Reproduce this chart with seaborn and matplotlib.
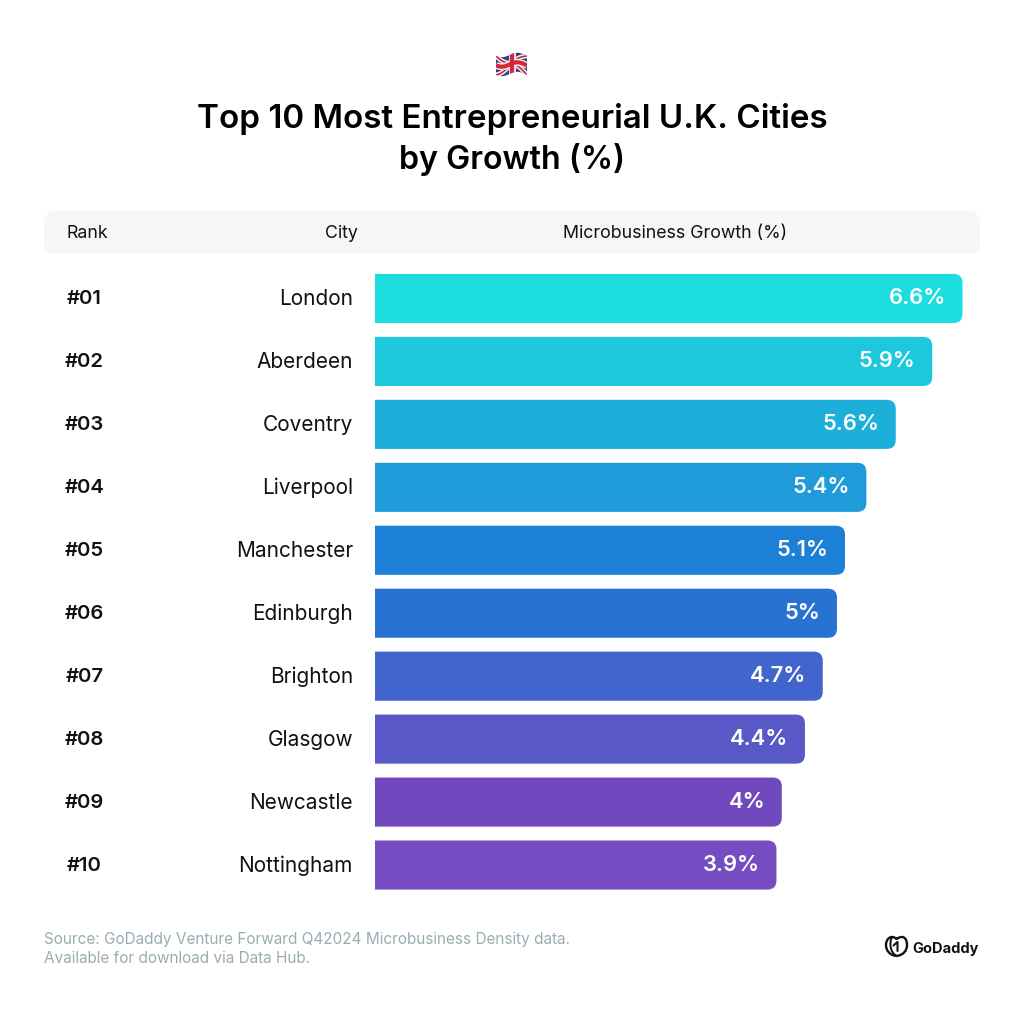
import numpy as np
import pandas as pd
import seaborn as sns
import matplotlib.pyplot as plt
from matplotlib.path import Path
from matplotlib.patches import PathPatch, FancyBboxPatch
from matplotlib.transforms import ScaledTranslation

ranks = ['#01', '#02', '#03', '#04', '#05', '#06', '#07', '#08', '#09', '#10']
cities = ['London', 'Aberdeen', 'Coventry', 'Liverpool', 'Manchester',
          'Edinburgh', 'Brighton', 'Glasgow', 'Newcastle', 'Nottingham']
# printed labels
growth_labels = ['6.6%', '5.9%', '5.6%', '5.4%', '5.1%', '5%', '4.7%', '4.4%', '4%', '3.9%']
# the bars are not drawn to the printed numbers, these are the lengths as read off the picture
bar_lengths = [6.60, 6.26, 5.85, 5.52, 5.28, 5.19, 5.03, 4.83, 4.57, 4.51]
bar_colors = ['#1CDEDE', '#1EC8DC', '#1CAFDA', '#1E9BD8', '#1B80D6',
              '#2872D2', '#4164CD', '#5858C7', '#7149BE', '#754CC1']

W, H = 1024, 1010
TEXT = '#111111'

sns.set_theme(style='white')
plt.rcParams['font.family'] = ['Inter', 'DejaVu Sans']

df = pd.DataFrame({'city': cities, 'length': bar_lengths})

fig = plt.figure(figsize=(W / 100, H / 100), dpi=100, facecolor='white')

# overlay in pixel coordinates for header, title, footer
bg = fig.add_axes([0, 0, 1, 1])
bg.set_xlim(0, W)
bg.set_ylim(H, 0)
bg.axis('off')

# bars, axes placed so row centres and bar ends fall where they do in the picture
x0, x1 = 375, 962.5
y0, y1 = 267, 896.5
ax = fig.add_axes([x0 / W, 1 - y1 / H, (x1 - x0) / W, (y1 - y0) / H])
ax.patch.set_alpha(0)
sns.barplot(data=df, y='city', x='length', hue='city', palette=bar_colors,
            order=cities, hue_order=cities, legend=False, width=0.78, saturation=1, ax=ax)
ax.set_xlim(0, 6.6)
ax.set_ylim(9.5, -0.5)
ax.set_xlabel('')
ax.set_ylabel('')
ax.xaxis.set_visible(False)
sns.despine(ax=ax, left=True, bottom=True, top=True, right=True)
ax.tick_params(axis='y', length=0, pad=22 * 0.72)
up = ScaledTranslation(0, 1.5 / 100, fig.dpi_scale_trans)
for t in ax.get_yticklabels():
    t.set_fontsize(15)
    t.set_color(TEXT)
    t.set_transform(t.get_transform() + up)

# swap square bars for ones with rounded right corners
rx = 9 / ((x1 - x0) / 6.6)
ry = 9 / ((y1 - y0) / 10)
for bar, lab, rank in zip(list(ax.patches), growth_labels, ranks):
    xa, xb = bar.get_x(), bar.get_x() + bar.get_width()
    ya, yb = bar.get_y(), bar.get_y() + bar.get_height()
    verts = [(xa, ya), (xb - rx, ya), (xb, ya), (xb, ya + ry), (xb, yb - ry), (xb, yb), (xb - rx, yb), (xa, yb), (xa, ya)]
    codes = [Path.MOVETO, Path.LINETO, Path.CURVE3, Path.CURVE3, Path.LINETO,
             Path.CURVE3, Path.CURVE3, Path.LINETO, Path.CLOSEPOLY]
    ax.add_patch(PathPatch(Path(verts, codes), fc=bar.get_facecolor(), ec='none'))
    bar.remove()
    ymid = (ya + yb) / 2
    ax.annotate(lab, (xb, ymid), xytext=(-16.5 * 0.72, 2 * 0.72), textcoords='offset points',
                ha='right', va='center_baseline', color='white', fontsize=15.8, fontweight='semibold')
    ax.annotate(rank, (0, ymid), xycoords=('axes fraction', 'data'), xytext=(-290.5 * 0.72, 1.5 * 0.72),
                textcoords='offset points', ha='center', va='center_baseline',
                color=TEXT, fontsize=14.6, fontweight='semibold')

# header strip
bg.add_patch(FancyBboxPatch((44, 211), 936, 43, boxstyle='round,pad=0,rounding_size=12',
                            fc='#F5F6F8', ec='none'))
bg.text(87.5, 232, 'Rank', ha='center', va='center_baseline', fontsize=12.8, color=TEXT)
bg.text(341, 232, 'City', ha='center', va='center_baseline', fontsize=12.8, color=TEXT)
bg.text(675, 232, 'Microbusiness Growth (%)', ha='center', va='center_baseline', fontsize=12.8, color=TEXT)

# title
bg.text(512, 115.5, 'Top 10 Most Entrepreneurial U.K. Cities', ha='center', va='center_baseline',
        fontsize=23.9, fontweight='semibold', color='black')
bg.text(512, 156.5, 'by Growth (%)', ha='center', va='center_baseline',
        fontsize=23.2, fontweight='semibold', color='black')

# footer
bg.text(44, 938, 'Source: GoDaddy Venture Forward Q42024 Microbusiness Density data.',
        ha='left', va='center_baseline', fontsize=11.05, color='#9AACB2')
bg.text(44, 957, 'Available for download via Data Hub.',
        ha='left', va='center_baseline', fontsize=11.05, color='#9AACB2')

# GoDaddy logo
C3 = Path.CURVE4
heart = Path([(896.5, 956), (889, 955), (886, 950), (886, 945), (886, 940), (889, 937), (892, 937),
              (894, 937), (896, 938), (896.5, 939.5), (897, 938), (900, 937), (902, 937),
              (905, 937), (907, 940), (907, 945), (907, 950), (904, 955), (896.5, 956)],
             [Path.MOVETO] + [C3] * 18)
bg.add_patch(PathPatch(heart, fc='none', ec='#111111', lw=1.7))
inner = Path([(892, 937), (889, 943), (890, 952), (896.5, 956)], [Path.MOVETO, C3, C3, C3])
bg.add_patch(PathPatch(inner, fc='none', ec='#111111', lw=1.4))
bg.plot([893.5, 897.5, 897.5], [945.5, 942, 951], color='#111111', lw=1.5, solid_capstyle='round')
bg.text(912, 947, 'GoDaddy', ha='left', va='center_baseline', fontsize=10.5, fontweight='bold', color='#111111')

# flag, waving a little
wave = lambda x: 2.2 * np.sin((x - 496) / 31 * 2 * np.pi + 0.4)
fx = np.linspace(496, 527, 40)
outline = np.r_[np.c_[fx, 55 + wave(fx)], np.c_[fx[::-1], 74 + wave(fx[::-1])]]
flag = PathPatch(Path(outline, closed=False), fc='#2B3F8C', ec='none')
bg.add_patch(flag)


def flag_line(xa, ya, xb, yb, color, lw):
    xs = np.linspace(xa, xb, 30)
    ys = np.linspace(ya, yb, 30) + wave(xs)
    ln, = bg.plot(xs, ys, color=color, lw=lw, solid_capstyle='butt')
    ln.set_clip_path(flag)


for a, b in [((496, 55), (527, 74)), ((496, 74), (527, 55))]:
    flag_line(a[0], a[1], b[0], b[1], '#F2EEF0', 3.4)
    flag_line(a[0], a[1], b[0], b[1], '#D8263C', 1.2)
flag_line(496, 64.5, 527, 64.5, '#F2EEF0', 5)
flag_line(511.5, 53, 511.5, 76, '#F2EEF0', 5)
flag_line(496, 64.5, 527, 64.5, '#D8263C', 3)
flag_line(511.5, 53, 511.5, 76, '#D8263C', 3)

fig.savefig('out.png', dpi=100, facecolor='white')
